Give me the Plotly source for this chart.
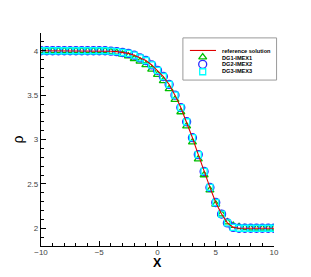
import plotly.graph_objects as go

x = [-10, -9.5, -9, -8.5, -8, -7.5, -7, -6.5, -6, -5.5, -5,
     -4.5, -4, -3.5, -3, -2.5, -2, -1.5, -1, -0.5, 0, 0.5, 1, 1.5, 2,
     2.5, 3, 3.5, 4, 4.5, 5, 5.5, 6, 6.5,
     7, 7.5, 8, 8.5, 9, 9.5, 10]

rho_ref = [4.0, 4.0, 4.0, 4.0, 4.0, 4.0, 4.0, 4.0, 4.0, 4.0, 4.0,
           4.0, 3.995, 3.99, 3.98, 3.97, 3.95, 3.92, 3.89, 3.84, 3.78, 3.71, 3.62, 3.50, 3.36,
           3.20, 3.02, 2.83, 2.64, 2.46, 2.29, 2.16, 2.06, 2.01,
           2.0, 2.0, 2.0, 2.0, 2.0, 2.0, 2.0]

rho_dg1 = [4.0, 4.0, 4.0, 4.0, 4.0, 4.0, 4.0, 4.0, 4.0, 4.0, 4.0,
           4.0, 3.99, 3.98, 3.96, 3.94, 3.91, 3.88, 3.84, 3.79, 3.73, 3.66, 3.57, 3.45, 3.31,
           3.15, 2.97, 2.78, 2.60, 2.43, 2.27, 2.16, 2.07, 2.03,
           2.015, 2.005, 2.0, 2.0, 2.0, 2.0, 2.0]

rho_dg2 = list(rho_ref)
rho_dg3 = list(rho_ref)

legend_labels = ["reference solution", "DG1-IMEX1", "DG2-IMEX2", "DG3-IMEX3"]

GREEN = "#00c000"
BLUE = "#2a2aff"
CYAN = "#00ffff"
RED = "#e00000"

fig = go.Figure()

fig.add_trace(go.Scatter(x=x, y=rho_dg1, mode="markers", name=legend_labels[1],
                         marker=dict(symbol="triangle-up-open", size=7, color=GREEN,
                                     line=dict(width=1.3, color=GREEN))))
fig.add_trace(go.Scatter(x=x, y=rho_dg2, mode="markers", name=legend_labels[2],
                         marker=dict(symbol="circle-open", size=8, color=BLUE,
                                     line=dict(width=1.3, color=BLUE))))
fig.add_trace(go.Scatter(x=x, y=rho_dg3, mode="markers", name=legend_labels[3],
                         marker=dict(symbol="square-open", size=6, color=CYAN,
                                     line=dict(width=1.3, color=CYAN))))
fig.add_trace(go.Scatter(x=x, y=rho_ref, mode="lines", name=legend_labels[0],
                         line=dict(color=RED, width=1.1)))

# manual legend (on an overlay axis pair spanning the plot area)
lx_line = [0.639, 0.751]
ly_rows = [0.917, 0.884, 0.853, 0.820]
fig.add_trace(go.Scatter(x=lx_line, y=[0.918] * 2, mode="lines", xaxis="x2", yaxis="y2",
                         line=dict(color=RED, width=1.1), showlegend=False, hoverinfo="skip",
                         cliponaxis=False))
fig.add_trace(go.Scatter(x=[0.694], y=[0.887], mode="markers", xaxis="x2", yaxis="y2",
                         marker=dict(symbol="triangle-up-open", size=7, color=GREEN,
                                     line=dict(width=1.3, color=GREEN)),
                         showlegend=False, hoverinfo="skip", cliponaxis=False))
fig.add_trace(go.Scatter(x=[0.694], y=[0.853], mode="markers", xaxis="x2", yaxis="y2",
                         marker=dict(symbol="circle-open", size=8, color=BLUE,
                                     line=dict(width=1.3, color=BLUE)),
                         showlegend=False, hoverinfo="skip", cliponaxis=False))
fig.add_trace(go.Scatter(x=[0.694], y=[0.818], mode="markers", xaxis="x2", yaxis="y2",
                         marker=dict(symbol="square-open", size=6, color=CYAN,
                                     line=dict(width=1.3, color=CYAN)),
                         showlegend=False, hoverinfo="skip", cliponaxis=False))

for lab, yy in zip(legend_labels, ly_rows):
    fig.add_annotation(x=0.768, y=yy, xref="paper", yref="paper", text="<b>%s</b>" % lab,
                       showarrow=False, xanchor="left", yanchor="middle",
                       font=dict(size=5.6, color="black", family="Liberation Sans, Arial"))

fig.add_shape(type="rect", xref="paper", yref="paper", x0=0.609, x1=1.011, y0=0.779, y1=0.977,
              line=dict(color="#9a9a9a", width=1), fillcolor="rgba(0,0,0,0)")

# axis titles
fig.add_annotation(x=0.5, y=-0.082, xref="paper", yref="paper", text="<b>X</b>",
                   showarrow=False, xanchor="center", yanchor="middle",
                   font=dict(size=12.5, color="black", family="Liberation Sans, Arial"))
fig.add_annotation(x=-0.103, y=0.5, xref="paper", yref="paper", text="ρ", textangle=-90,
                   showarrow=False, xanchor="center", yanchor="middle",
                   font=dict(size=14, color="black", family="Liberation Sans, Arial"))

fig.update_layout(
    width=311, height=277,
    margin=dict(l=33, r=45, t=25, b=39),
    paper_bgcolor="white", plot_bgcolor="white",
    showlegend=False,
    font=dict(family="Liberation Sans, Arial", size=8, color="#333333"),
    xaxis=dict(range=[-10, 10], tickvals=[-10, -5, 0, 5, 10], ticks="inside", ticklen=5,
               tickwidth=1, tickcolor="black", showgrid=False, zeroline=False,
               showline=True, linecolor="black", linewidth=1.2, automargin=False,
               ticklabelstandoff=-2,
               minor=dict(dtick=1, ticks="inside", ticklen=3, tickcolor="black", showgrid=False),
               tickfont=dict(size=8, color="#444444")),
    yaxis=dict(range=[1.8, 4.2], tickvals=[2, 2.5, 3, 3.5, 4], ticktext=["2", "2.5", "3", "3.5", "4"],
               ticks="inside", ticklen=5, tickwidth=1, tickcolor="black", showgrid=False,
               zeroline=False, showline=True, linecolor="black", linewidth=1.2, automargin=False,
               minor=dict(dtick=0.1, ticks="inside", ticklen=3, tickcolor="black", showgrid=False),
               tickfont=dict(size=8, color="#444444")),
    xaxis2=dict(range=[0, 1], overlaying="x", visible=False, fixedrange=True),
    yaxis2=dict(range=[0, 1], overlaying="y", visible=False, fixedrange=True),
)

fig.write_html("out.html")
